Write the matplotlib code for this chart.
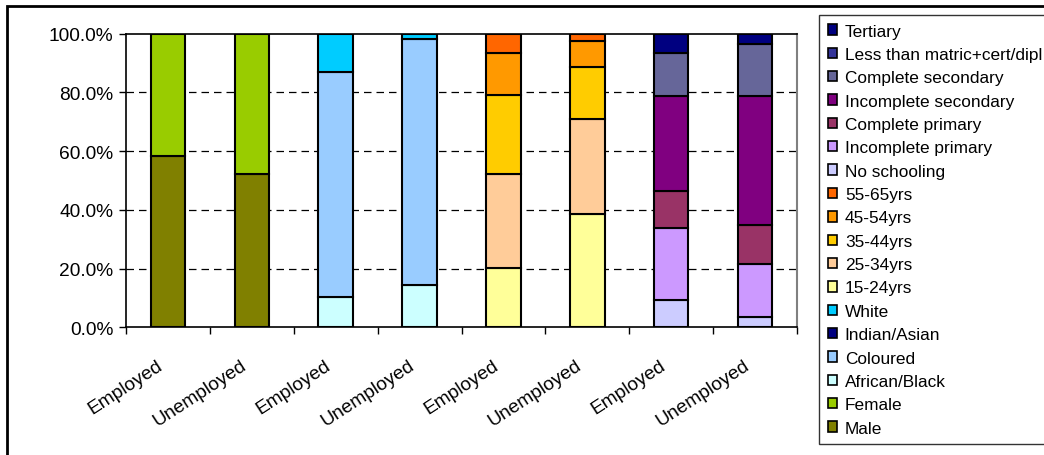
import matplotlib
matplotlib.use("Agg")
import matplotlib.pyplot as plt
import matplotlib.transforms as mtransforms
from matplotlib.patches import Rectangle
from matplotlib.ticker import FuncFormatter
import numpy as np

plt.rcParams['font.family'] = ['Liberation Sans', 'DejaVu Sans']

categories = ["Employed", "Unemployed", "Employed", "Unemployed",
              "Employed", "Unemployed", "Employed", "Unemployed"]

# percentages per bar (gender, race, age, education groups)
male = [58.3, 52.3, 0, 0, 0, 0, 0, 0]
female = [41.7, 47.7, 0, 0, 0, 0, 0, 0]
african_black = [0, 0, 10.3, 14.5, 0, 0, 0, 0]
coloured = [0, 0, 76.7, 83.6, 0, 0, 0, 0]
indian_asian = [0, 0, 0, 0, 0, 0, 0, 0]
white = [0, 0, 13.0, 1.9, 0, 0, 0, 0]
age_15_24 = [0, 0, 0, 0, 20.2, 38.5, 0, 0]
age_25_34 = [0, 0, 0, 0, 32.0, 32.4, 0, 0]
age_35_44 = [0, 0, 0, 0, 26.8, 17.9, 0, 0]
age_45_54 = [0, 0, 0, 0, 14.5, 8.6, 0, 0]
age_55_65 = [0, 0, 0, 0, 6.5, 2.6, 0, 0]
no_schooling = [0, 0, 0, 0, 0, 0, 9.4, 3.4]
incomplete_primary = [0, 0, 0, 0, 0, 0, 24.5, 18.3]
complete_primary = [0, 0, 0, 0, 0, 0, 12.5, 13.2]
incomplete_secondary = [0, 0, 0, 0, 0, 0, 32.3, 43.8]
complete_secondary = [0, 0, 0, 0, 0, 0, 14.8, 17.9]
less_than_matric = [0, 0, 0, 0, 0, 0, 0, 0]
tertiary = [0, 0, 0, 0, 0, 0, 6.5, 3.4]

series = [
    ("Male", male, "#808000"),
    ("Female", female, "#99CC00"),
    ("African/Black", african_black, "#CCFFFF"),
    ("Coloured", coloured, "#99CCFF"),
    ("Indian/Asian", indian_asian, "#000080"),
    ("White", white, "#00CCFF"),
    ("15-24yrs", age_15_24, "#FFFF99"),
    ("25-34yrs", age_25_34, "#FFCC99"),
    ("35-44yrs", age_35_44, "#FFCC00"),
    ("45-54yrs", age_45_54, "#FF9900"),
    ("55-65yrs", age_55_65, "#FF6600"),
    ("No schooling", no_schooling, "#CCCCFF"),
    ("Incomplete primary", incomplete_primary, "#CC99FF"),
    ("Complete primary", complete_primary, "#993366"),
    ("Incomplete secondary", incomplete_secondary, "#800080"),
    ("Complete secondary", complete_secondary, "#666699"),
    ("Less than matric+cert/dipl", less_than_matric, "#333399"),
    ("Tertiary", tertiary, "#000080"),
]

fig = plt.figure(figsize=(10.44, 4.56), dpi=100)
ax = fig.add_axes([126 / 1044, 1 - 328.3 / 456, (797 - 126) / 1044, 293.6 / 456])

x = np.arange(len(categories))
bottom = np.zeros(len(categories))
handles = []
for label, vals, color in series:
    vals = np.array(vals, dtype=float)
    idx = vals > 0
    ax.bar(x[idx], vals[idx], bottom=bottom[idx], width=0.41, color=color,
           edgecolor="black", linewidth=1.5, zorder=3)
    handles.append(Rectangle((0, 0), 1, 1, facecolor=color, edgecolor="black", linewidth=1.2))
    bottom += vals

ax.set_xlim(-0.5, len(categories) - 0.5)
ax.set_ylim(0, 100)
ax.set_yticks(np.arange(0, 101, 20))
ax.yaxis.set_major_formatter(FuncFormatter(lambda v, p: f"{v:.1f}%"))
ax.tick_params(axis="y", labelsize=13.8, length=5, width=1, pad=4)

ax.set_xticks(x)
ax.set_xticklabels(categories, rotation=33, ha="right", va="center",
                   rotation_mode="anchor", fontsize=13.8)
ax.tick_params(axis="x", which="major", length=0, pad=26)
shift = mtransforms.ScaledTranslation(-7 / 100, 0, fig.dpi_scale_trans)
for t in ax.get_xticklabels():
    t.set_transform(t.get_transform() + shift)
ax.set_xticks(np.arange(-0.5, len(categories)), minor=True)
ax.tick_params(axis="x", which="minor", length=5, width=1)

for y in [20, 40, 60, 80]:
    ax.axhline(y, color="black", linestyle=(0, (6, 4)), linewidth=0.9, zorder=1)

ax.spines["left"].set_linewidth(1.2)
ax.spines["bottom"].set_linewidth(1.2)
ax.spines["top"].set_linewidth(1.2)
ax.spines["right"].set_color("#808080")
ax.spines["right"].set_linewidth(1.5)

labels = [s[0] for s in series]
leg = fig.legend(handles[::-1], labels[::-1], loc="upper left",
                 bbox_to_anchor=(819 / 1044, 1 - 16 / 456), fontsize=12.4,
                 frameon=True, fancybox=False, borderaxespad=0, borderpad=0.5,
                 handlelength=0.55, handleheight=0.55, handletextpad=0.45,
                 labelspacing=0.485)
leg.get_frame().set_edgecolor("black")
leg.get_frame().set_linewidth(1.0)

# outer chart border
border = Rectangle((7 / 1044, -0.2), 1.2, 1.2 - 7 / 456, transform=fig.transFigure,
                   fill=False, edgecolor="black", linewidth=2, clip_on=False)
fig.patches.append(border)

fig.savefig("out.png", dpi=100)
